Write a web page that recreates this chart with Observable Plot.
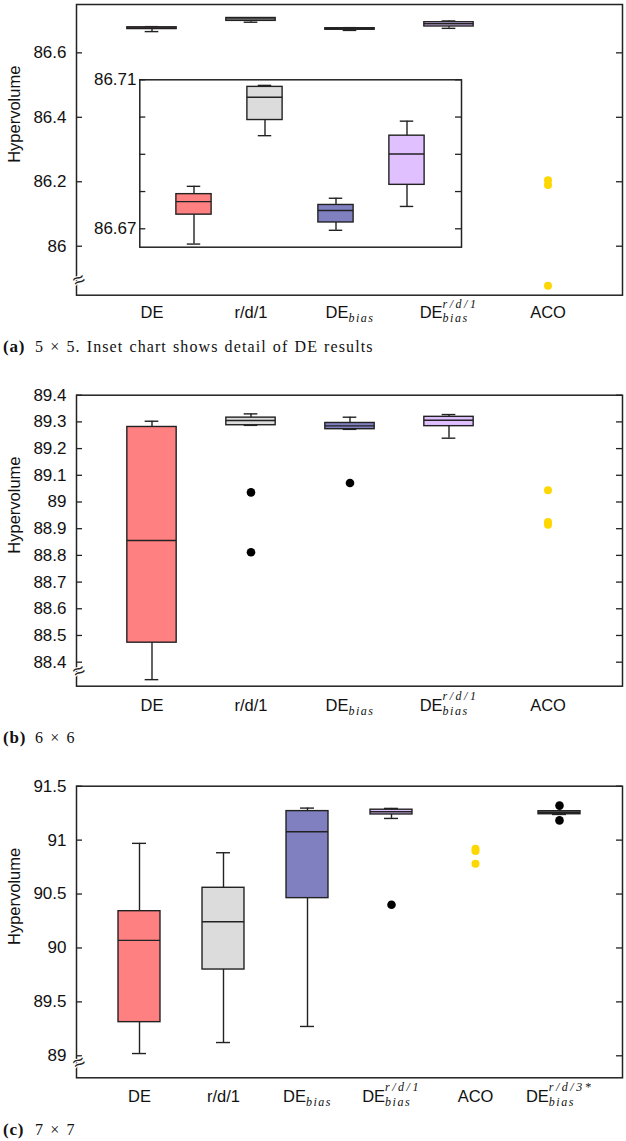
<!DOCTYPE html>
<html><head><meta charset="utf-8">
<script src="https://cdn.jsdelivr.net/npm/d3@7"></script>
<script src="https://cdn.jsdelivr.net/npm/@observablehq/plot@0.6"></script>
<style>
body{margin:0;background:#fff;}
#root{position:relative;width:626px;height:1141px;overflow:hidden;}
.panel{position:absolute;}
.cap{position:absolute;left:3px;font-family:"Liberation Serif",serif;font-size:16px;line-height:20px;white-space:nowrap;color:#111;}
.cap b{font-size:17px;letter-spacing:0.8px;}
.cap span{position:absolute;left:32px;top:0;letter-spacing:1.1px;word-spacing:1px;}
</style></head>
<body><div id="root"></div>
<script>
// ---------- data ----------
const catsA = ["DE", "r/d/1", "DE_bias", "DE_bias^r/d/1", "ACO"];
const boxNamesA = ["DE", "r/d/1", "DE_bias", "DE_bias^r/d/1"];
const boxColors = ["#ff8080", "#dcdcdc", "#8080c0", "#e0c0ff"];
const a_lo  = [86.6659, 86.6950, 86.6696, 86.6760];
const a_q1  = [86.6738, 86.6992, 86.6717, 86.6818];
const a_med = [86.6773, 86.7053, 86.6749, 86.6901];
const a_q3  = [86.6793, 86.7081, 86.6764, 86.6950];
const a_hi  = [86.6814, 86.7085, 86.6782, 86.6989];
const a_aco = [86.205, 86.190, 85.877];
const a_ticks = [86, 86.2, 86.4, 86.6];
const inset_ticks = [86.67, 86.68, 86.69, 86.70, 86.71];
const inset_labels = [86.67, 86.71];

const b_lo  = [88.3345, 89.2870, 89.2720, 89.2390];
const b_q1  = [88.4730, 89.2875, 89.2726, 89.2840];
const b_med = [88.8560, 89.3050, 89.2850, 89.3060];
const b_q3  = [89.2810, 89.3160, 89.2960, 89.3190];
const b_hi  = [89.3025, 89.3300, 89.3176, 89.3275];
const b_outNames = ["r/d/1", "r/d/1", "DE_bias"];
const b_outVals  = [89.036, 88.812, 89.071];
const b_aco = [89.044, 88.925, 88.915];
const b_ticks = [88.4, 88.5, 88.6, 88.7, 88.8, 88.9, 89.0, 89.1, 89.2, 89.3, 89.4];

const catsC = ["DE", "r/d/1", "DE_bias", "DE_bias^r/d/1", "ACO", "DE_bias^r/d/3*"];
const boxNamesC = ["DE", "r/d/1", "DE_bias", "DE_bias^r/d/1", "DE_bias^r/d/3*"];
const boxColorsC = ["#ff8080", "#dcdcdc", "#8080c0", "#e0c0ff", "#606060"];
const c_lo  = [89.021, 89.123, 89.272, 91.201, 91.238];
const c_q1  = [89.312, 89.800, 90.462, 91.238, 91.240];
const c_med = [90.070, 90.243, 91.078, 91.263, 91.255];
const c_q3  = [90.341, 90.558, 91.269, 91.282, 91.268];
const c_hi  = [90.970, 90.883, 91.297, 91.294, 91.270];
const c_outNames = ["DE_bias^r/d/1", "DE_bias^r/d/3*", "DE_bias^r/d/3*"];
const c_outVals  = [90.40, 91.32, 91.183];
const c_aco = [90.92, 90.90, 90.78];
const c_ticks = [89, 89.5, 90, 90.5, 91, 91.5];

// ---------- builder ----------
const PAD = 0.248;
const INK = "#222";
const fmt = d => String(+d.toFixed(2));

function panel(o) {
  const fw = o.width - o.ml - o.mr;
  const step = fw / (o.cats.length + 2 * PAD);
  const boxIn = step / 4;
  const capIn = (step - 14) / 2;
  const boxes = o.names.map((n, i) => ({n, lo: o.lo[i], q1: o.q1[i], med: o.med[i], q3: o.q3[i], hi: o.hi[i], c: o.colors[i]}));
  const outs = (o.outNames || []).map((n, i) => ({n, v: o.outVals[i]}));
  const aco = (o.aco || []).map(v => ({n: "ACO", v}));
  const marks = [
    Plot.tickY(o.ticks, {y: d => d, insetRight: fw - 6, stroke: INK, strokeWidth: 1.3}),
    Plot.tickY(o.ticks, {y: d => d, insetLeft: fw - 6, stroke: INK, strokeWidth: 1.3}),
    Plot.ruleX(boxes, {x: "n", y1: "lo", y2: "hi", stroke: INK, strokeWidth: 1.4}),
    Plot.tickY(boxes, {x: "n", y: "lo", insetLeft: capIn, insetRight: capIn, stroke: INK, strokeWidth: 1.4}),
    Plot.tickY(boxes, {x: "n", y: "hi", insetLeft: capIn, insetRight: capIn, stroke: INK, strokeWidth: 1.4}),
    Plot.barY(boxes, {x: "n", y1: "q1", y2: "q3", fill: "c", stroke: INK, strokeWidth: 1.4, insetLeft: boxIn, insetRight: boxIn}),
    Plot.tickY(boxes, {x: "n", y: "med", insetLeft: boxIn, insetRight: boxIn, stroke: INK, strokeWidth: 1.4}),
    Plot.dot(outs, {x: "n", y: "v", r: 4.3, fill: "#000", stroke: null}),
    Plot.dot(aco, {x: "n", y: "v", r: 4, fill: "#ffd700", stroke: null}),
    Plot.frame({stroke: INK, strokeWidth: 1.5}),
    Plot.axisY(o.labels || o.ticks, {anchor: "left", tickSize: 0, tickPadding: o.tickPad ?? 10, tickFormat: fmt, label: null, fontSize: 17})
  ];
  if (o.xaxis) marks.push(Plot.axisX({tickSize: 0, tickPadding: o.xPad, label: null, fontSize: 16.5}));
  else marks.push(Plot.axisX({ticks: [], tickSize: 0, label: null}));
  if (o.hyper) {
    marks.push(Plot.text(["Hypervolume"], {frameAnchor: "left", rotate: -90, dx: -62, dy: 13, fontSize: 16.5}));
    marks.push(Plot.text(["≈"], {frameAnchor: "bottom-left", dy: -6.7, fontSize: 21, rotate: -25, fill: INK, stroke: "white", strokeWidth: 2, paintOrder: "stroke"}));
  }
  return Plot.plot({
    width: o.width, height: o.height,
    marginLeft: o.ml, marginRight: o.mr, marginTop: o.mt, marginBottom: o.mb,
    x: {type: "band", domain: o.cats, paddingInner: 0, paddingOuter: PAD, align: 0.5},
    y: {domain: o.domain, nice: false},
    color: {type: "identity"},
    style: {fontFamily: "'Liberation Sans', Arial, sans-serif", fontSize: "16px", color: "#111", background: "transparent", overflow: "visible"},
    marks
  });
}

function richLabels(svg) {
  const ns = "http://www.w3.org/2000/svg";
  svg.querySelectorAll("text").forEach(t => {
    const s = t.textContent;
    const m = /^([^_]+)_([^\^]+)(?:\^(.+))?$/.exec(s);
    if (!m) return;
    while (t.firstChild) t.removeChild(t.firstChild);
    const base = document.createElementNS(ns, "tspan");
    base.textContent = m[1];
    t.appendChild(base);
    const sub = document.createElementNS(ns, "tspan");
    sub.textContent = m[2];
    sub.setAttribute("font-family", "'Liberation Serif', serif");
    sub.setAttribute("font-style", "italic");
    sub.setAttribute("font-size", "12");
    sub.setAttribute("letter-spacing", "1.5");
    sub.setAttribute("dy", "4");
    t.appendChild(sub);
    if (m[3]) {
      const w = sub.getComputedTextLength();
      const sup = document.createElementNS(ns, "tspan");
      sup.textContent = m[3];
      sup.setAttribute("font-family", "'Liberation Serif', serif");
      sup.setAttribute("font-style", "italic");
      sup.setAttribute("font-size", "12");
      sup.setAttribute("letter-spacing", "2.5");
      sup.setAttribute("dx", String(-w));
      sup.setAttribute("dy", "-14.5");
      t.appendChild(sup);
    }
  });
}

const root = document.getElementById("root");
function place(el, left, top) {
  const d = document.createElement("div");
  d.className = "panel";
  d.style.left = left + "px";
  d.style.top = top + "px";
  d.appendChild(el);
  root.appendChild(d);
  richLabels(el.tagName.toLowerCase() === "svg" ? el : el.querySelector("svg"));
}
function caption(top, tag, text) {
  const d = document.createElement("div");
  d.className = "cap";
  d.style.top = top + "px";
  const b = document.createElement("b");
  b.textContent = tag;
  const s = document.createElement("span");
  s.textContent = text;
  d.appendChild(b); d.appendChild(s);
  root.appendChild(d);
}

// Panel (a)
place(panel({
  width: 626, height: 330, ml: 76, mr: 4, mt: 4, mb: 35.3,
  cats: catsA, names: boxNamesA, colors: boxColors,
  lo: a_lo, q1: a_q1, med: a_med, q3: a_q3, hi: a_hi, aco: a_aco,
  ticks: a_ticks, domain: [85.848, 86.75], xaxis: true, xPad: 11.5, hyper: true
}), 0, 0);
// Inset of (a)
place(panel({
  width: 380, height: 190, ml: 49.3, mr: 9, mt: 9.3, mb: 13.3,
  cats: boxNamesA, names: boxNamesA, colors: boxColors,
  lo: a_lo, q1: a_q1, med: a_med, q3: a_q3, hi: a_hi,
  ticks: inset_ticks, labels: inset_labels, tickPad: 3.3, domain: [86.66506, 86.71], xaxis: false
}), 90, 70);
caption(337, "(a)", "5 × 5. Inset chart shows detail of DE results");

// Panel (b)
place(panel({
  width: 626, height: 350, ml: 76, mr: 4, mt: 24.7, mb: 34.3,
  cats: catsA, names: boxNamesA, colors: boxColors,
  lo: b_lo, q1: b_q1, med: b_med, q3: b_q3, hi: b_hi,
  outNames: b_outNames, outVals: b_outVals, aco: b_aco,
  ticks: b_ticks, domain: [88.31, 89.4], xaxis: true, xPad: 12.7, hyper: true
}), 0, 370);
caption(728, "(b)", "6 × 6");

// Panel (c)
place(panel({
  width: 626, height: 350, ml: 76, mr: 4, mt: 25.7, mb: 32.7,
  cats: catsC, names: boxNamesC, colors: boxColorsC,
  lo: c_lo, q1: c_q1, med: c_med, q3: c_q3, hi: c_hi,
  outNames: c_outNames, outVals: c_outVals, aco: c_aco,
  ticks: c_ticks, domain: [88.796, 91.5], xaxis: true, xPad: 12.1, hyper: true
}), 0, 760);
caption(1119.7, "(c)", "7 × 7");
</script>
</body></html>
